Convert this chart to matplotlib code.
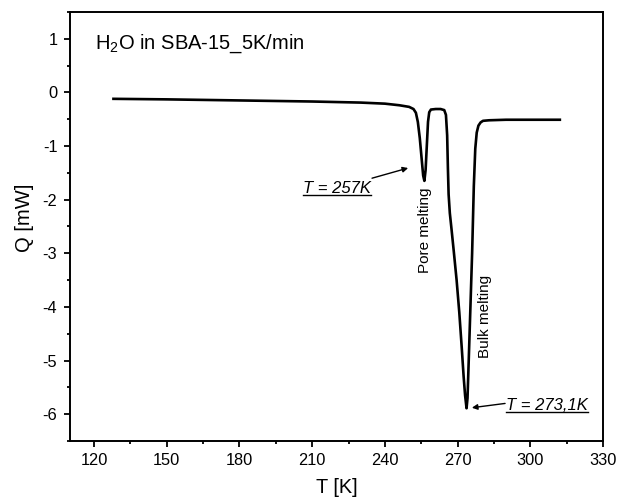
import matplotlib
matplotlib.use("Agg")
import matplotlib.pyplot as plt
from matplotlib.ticker import MultipleLocator
from matplotlib.lines import Line2D

plt.rcParams['font.family'] = ['Liberation Sans', 'DejaVu Sans']
plt.rcParams['mathtext.fontset'] = 'custom'
plt.rcParams['mathtext.rm'] = 'Liberation Sans'
plt.rcParams['mathtext.it'] = 'Liberation Sans:italic'
plt.rcParams['axes.unicode_minus'] = False

# DSC curve
temp_K = [128, 150, 180, 210, 230, 240, 246, 250, 251.8, 252.8, 253.6, 254.4, 255.2, 255.8,
          256.3, 256.8, 257.3, 257.8, 258.3, 259.0, 261, 263, 264.5, 265.2, 265.7, 266.0,
          266.3, 266.8, 267.5, 268.4, 269.6, 270.7, 271.7, 272.5, 273.1, 273.7, 274.1,
          274.6, 275.3, 276.0, 276.7, 277.3, 277.9, 278.6, 279.5, 280.5, 283, 290, 300, 312.2]
heat_mW = [-0.12, -0.13, -0.15, -0.17, -0.19, -0.21, -0.24, -0.27, -0.31, -0.38, -0.55, -0.85,
           -1.25, -1.55, -1.65, -1.45, -1.0, -0.55, -0.37, -0.32, -0.31, -0.31, -0.33, -0.42,
           -0.8, -1.4, -1.9, -2.25, -2.55, -2.95, -3.5, -4.1, -4.75, -5.3, -5.65, -5.89,
           -5.7, -5.0, -4.0, -3.0, -1.75, -1.05, -0.75, -0.62, -0.56, -0.53, -0.52, -0.51,
           -0.51, -0.51]

x_ticks = [120, 150, 180, 210, 240, 270, 300, 330]
y_ticks = [-6, -5, -4, -3, -2, -1, 0, 1]

fig = plt.figure(figsize=(6.18, 4.98), dpi=100)
ax = fig.add_axes([0.113, 0.1145, 0.9757 - 0.113, 0.976 - 0.1145])

ax.plot(temp_K, heat_mW, color='black', lw=1.9, solid_joinstyle='round')

ax.set_xlim(110, 330)
ax.set_ylim(-6.5, 1.5)
ax.set_xticks(x_ticks)
ax.set_yticks(y_ticks)
ax.xaxis.set_minor_locator(MultipleLocator(15))
ax.yaxis.set_minor_locator(MultipleLocator(0.5))
ax.tick_params(which='major', direction='out', length=4, width=1.3, labelsize=11.8,
               top=False, right=False, pad=5)
ax.tick_params(which='minor', direction='out', length=2.5, width=1.3, top=False, right=False)
for s in ax.spines.values():
    s.set_linewidth(1.4)

ax.set_xlabel('T [K]', fontsize=14.3, labelpad=7)
ax.set_ylabel('Q [mW]', fontsize=14.5)
ax.yaxis.set_label_coords(-0.067, 0.52)

ax.text(120.4, 0.81, 'H$_2$O in SBA-15_5K/min', fontsize=14.5, ha='left', va='baseline')

t1 = ax.text(234.2, -1.87, 'T = 257K', fontsize=12, style='italic', ha='right', va='baseline')
t2 = ax.text(290.0, -5.93, 'T = 273,1K', fontsize=12, style='italic', ha='left', va='baseline')

ax.annotate('', xy=(249.6, -1.41), xytext=(234.7, -1.6),
            arrowprops=dict(arrowstyle='-|>', color='black', lw=1.0,
                            mutation_scale=8, shrinkA=0, shrinkB=0))
ax.annotate('', xy=(275.9, -5.88), xytext=(289.6, -5.8),
            arrowprops=dict(arrowstyle='-|>', color='black', lw=1.0,
                            mutation_scale=8, shrinkA=0, shrinkB=0))

ax.text(256.6, -1.78, 'Pore melting', fontsize=11, rotation=90, ha='center', va='top')
ax.text(281.3, -3.41, 'Bulk melting', fontsize=11, rotation=90, ha='center', va='top')

# underline the temperature labels
fig.canvas.draw()
renderer = fig.canvas.get_renderer()
inv = fig.transFigure.inverted()
for t in (t1, t2):
    bb = t.get_window_extent(renderer)
    (x0, y0) = inv.transform((bb.x0, bb.y0 + 1))
    (x1, _) = inv.transform((bb.x1, bb.y0 + 1))
    fig.add_artist(Line2D([x0, x1], [y0, y0], transform=fig.transFigure,
                          color='black', lw=1.0))

fig.savefig('out.png', dpi=100)
